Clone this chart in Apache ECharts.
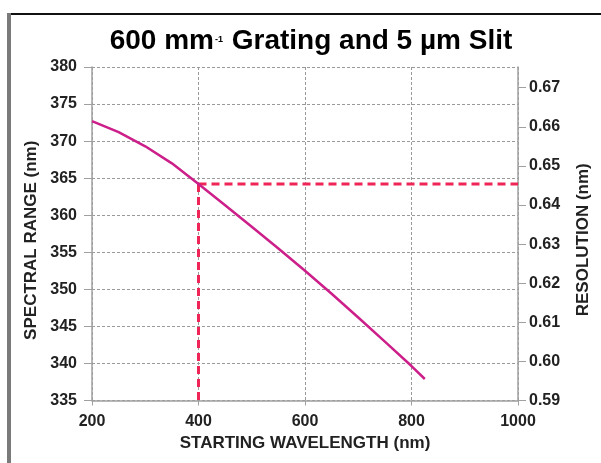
<!DOCTYPE html>
<html>
<head>
<meta charset="utf-8">
<script src="https://cdn.jsdelivr.net/npm/echarts@6/dist/echarts.min.js"></script>
<style>
html,body{margin:0;padding:0;background:#fff;}
#chart{width:601px;height:463px;}
</style>
</head>
<body>
<div id="chart"></div>
<script>
// ---- data ----
const wavelength = [200, 250, 300, 350, 400, 450, 500, 550, 600, 650, 700, 750, 800, 825];
const spectralRange = [372.7, 371.2, 369.3, 367.0, 364.2, 361.35, 358.45, 355.5, 352.5, 349.4, 346.2, 342.95, 339.65, 337.9];
const guideWavelength = 400;
const guideRange = 364.2;
const xTicks = [200, 400, 600, 800, 1000];
const leftTicks = [335, 340, 345, 350, 355, 360, 365, 370, 375, 380];
const rightTicks = [0.59, 0.60, 0.61, 0.62, 0.63, 0.64, 0.65, 0.66, 0.67];
const rightAxisMax = 0.6753;
const titleText = ['600 mm', '-1', ' Grating and 5 µm Slit'];
const xName = 'STARTING WAVELENGTH (nm)';
const leftName = 'SPECTRAL RANGE (nm)';
const rightName = 'RESOLUTION (nm)';

const FONT = '"Liberation Sans", Arial, Helvetica, sans-serif';
const chart = echarts.init(document.getElementById('chart'), null, {renderer: 'canvas'});

const curve = wavelength.map((w, i) => [w, spectralRange[i]]);
const vGuide = [[guideWavelength, guideRange], [guideWavelength, leftTicks[0]]];
const hGuide = [[guideWavelength, guideRange], [xTicks[xTicks.length - 1], guideRange]];

const tickLabel = {fontFamily: FONT, fontWeight: 'bold', fontSize: 16, color: '#222'};
const nameStyle = {fontFamily: FONT, fontWeight: 'bold', fontSize: 17, color: '#222'};
const gridLine = {show: true, lineStyle: {color: '#9a9a9a', width: 1, type: [3, 2]}};
const axisLine = {show: true, lineStyle: {color: '#a0a0a0', width: 1.5}};

chart.setOption({
  animation: false,
  backgroundColor: '#fff',
  title: {
    text: '{a|' + titleText[0] + '}{s|' + titleText[1] + '}{a|' + titleText[2] + '}',
    left: 306, top: 22, textAlign: 'center',
    textStyle: {
      rich: {
        a: {fontFamily: FONT, fontWeight: 'bold', fontSize: 28, color: '#000'},
        s: {fontFamily: FONT, fontWeight: 'bold', fontSize: 9, color: '#000', padding: [0, 1, 2, 1]}
      }
    }
  },
  graphic: [
    {type: 'rect', shape: {x: 7, y: 13, width: 594, height: 2}, style: {fill: '#111'}, silent: true},
    {type: 'rect', shape: {x: 7, y: 13, width: 4, height: 450}, style: {fill: '#7a7a7a'}, silent: true}
  ],
  grid: {left: 92, right: 83, top: 67, bottom: 62.5, containLabel: false},
  xAxis: {
    type: 'value', min: xTicks[0], max: xTicks[xTicks.length - 1], interval: 200,
    name: xName, nameLocation: 'middle', nameGap: 34, nameTextStyle: nameStyle,
    axisLine: axisLine,
    axisTick: {show: true, length: 5, lineStyle: {color: '#a0a0a0'}},
    axisLabel: Object.assign({margin: 13, formatter: v => String(v)}, tickLabel),
    splitLine: gridLine
  },
  yAxis: [
    {
      type: 'value', min: leftTicks[0], max: leftTicks[leftTicks.length - 1], interval: 5,
      name: leftName, nameLocation: 'middle', nameGap: 47,
      nameTextStyle: Object.assign({padding: [0, 13, 0, 0]}, nameStyle),
      axisLine: axisLine,
      axisTick: {show: true, length: 8, lineStyle: {color: '#a0a0a0'}},
      axisLabel: Object.assign({margin: 15}, tickLabel),
      splitLine: gridLine
    },
    {
      type: 'value', position: 'right', min: rightTicks[0], max: rightAxisMax, interval: 0.01,
      name: rightName, nameLocation: 'middle', nameGap: 57, nameRotate: 90,
      nameTextStyle: Object.assign({padding: [0, 12, 0, 0]}, nameStyle),
      axisLine: axisLine,
      axisTick: {show: true, length: 8, lineStyle: {color: '#a0a0a0'}},
      axisLabel: Object.assign({margin: 11, showMaxLabel: false, formatter: v => v.toFixed(2)}, tickLabel),
      splitLine: {show: false}
    }
  ],
  series: [
    {
      type: 'line', data: vGuide, xAxisIndex: 0, yAxisIndex: 0, symbol: 'none', z: 3,
      lineStyle: {color: '#ee2556', width: 3, type: [8, 5]}
    },
    {
      type: 'line', data: hGuide, xAxisIndex: 0, yAxisIndex: 0, symbol: 'none', z: 3,
      lineStyle: {color: '#ee2556', width: 3, type: [8, 5]}
    },
    {
      type: 'line', data: curve, xAxisIndex: 0, yAxisIndex: 0, symbol: 'none',
      smooth: false, z: 4,
      lineStyle: {color: '#cc1f8a', width: 2.5, join: 'round'}
    }
  ]
});
</script>
</body>
</html>
